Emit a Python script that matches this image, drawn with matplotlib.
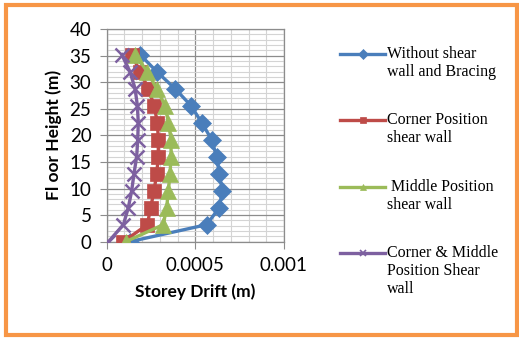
import matplotlib.pyplot as plt
from matplotlib.lines import Line2D
from matplotlib.patches import Rectangle
from matplotlib.ticker import MultipleLocator

plt.rcParams['font.family'] = ['Lato', 'DejaVu Sans']

heights = [0, 3.2, 6.4, 9.6, 12.8, 16, 19.2, 22.4, 25.6, 28.8, 32, 35.2]

without_wall = [0.00013, 0.000564, 0.000635, 0.000652, 0.000635, 0.00062,
                0.000592, 0.000536, 0.000475, 0.000385, 0.000282, 0.000188]
corner_wall = [0.000094, 0.000229, 0.000248, 0.000267, 0.000282, 0.000291,
               0.000291, 0.000286, 0.000267, 0.000235, 0.000188, 0.000141]
middle_wall = [0.000107, 0.000319, 0.000338, 0.000348, 0.000357, 0.000363,
               0.000363, 0.000348, 0.000329, 0.000282, 0.000229, 0.00016]
corner_middle = [0.00001, 0.000094, 0.000122, 0.000141, 0.000154, 0.000169,
                 0.000175, 0.000178, 0.000173, 0.00016, 0.000131, 0.000085]

labels = ["Without shear\nwall and Bracing",
          "Corner Position\nshear wall",
          " Middle Position\nshear wall",
          "Corner & Middle\nPosition Shear\nwall"]
x_ticks = [0, 0.0005, 0.001]
x_tick_labels = ["0", "0.0005", "0.001"]

colors = ["#4A7EBB", "#BE4B48", "#9BBB59", "#7D60A0"]
markers = ["D", "s", "^", "x"]
msizes = [9, 9.5, 11.5, 10]
series = [without_wall, corner_wall, middle_wall, corner_middle]

fig = plt.figure(figsize=(5.19, 3.38), dpi=100)
ax = fig.add_axes([0.2056, 0.285, 0.3416, 0.629])

for vals, c, m, ms in zip(series, colors, markers, msizes):
    ax.plot(vals, heights, color=c, lw=2.4, marker=m, markersize=ms,
            markeredgecolor=c, markeredgewidth=1.8 if m == "x" else 0.5,
            zorder=3)

ax.set_xlim(0, 0.001)
ax.set_ylim(0, 40)
ax.set_xticks(x_ticks)
ax.set_xticklabels(x_tick_labels)
ax.yaxis.set_major_locator(MultipleLocator(5))
ax.yaxis.set_minor_locator(MultipleLocator(1))
ax.xaxis.set_minor_locator(MultipleLocator(0.0001))
ax.grid(which="major", color="#8C8C8C", lw=0.9)
ax.grid(which="minor", color="#D4D4D4", lw=0.8)
ax.set_axisbelow(True)
for s in ax.spines.values():
    s.set_color("#8C8C8C")
    s.set_linewidth(0.9)
ax.tick_params(which="major", direction="out", length=5, color="#8C8C8C",
               labelsize=13.5, pad=6)
ax.tick_params(which="minor", length=0)
ax.set_xlabel("Storey Drift (m)", fontsize=12.5, fontweight="bold", labelpad=7)
ax.set_ylabel("Fl oor Height (m)", fontsize=12.5, fontweight="bold", labelpad=5)

# legend drawn at the positions used in the original
W, H = 519, 338
leg_y = [54, 120, 187, 253]
for y, c, m, lab in zip(leg_y, colors, markers, labels):
    fy = 1 - y / H
    fig.add_artist(Line2D([340 / W, 385 / W], [fy, fy], color=c, lw=2.4))
    fig.add_artist(Line2D([362.5 / W], [fy], color=c, marker=m, markersize=5,
                          markeredgewidth=1.2 if m == "x" else 0.5))
    fig.text(387 / W, fy + 8 / H, lab, fontsize=11.5, va="top", ha="left",
             family="Liberation Serif", linespacing=1.15)

fig.add_artist(Rectangle((6 / W, 3 / H), 511 / W, 330 / H, fill=False,
                         edgecolor="#F79646", lw=3, transform=fig.transFigure))

fig.savefig("out.png", dpi=100)
